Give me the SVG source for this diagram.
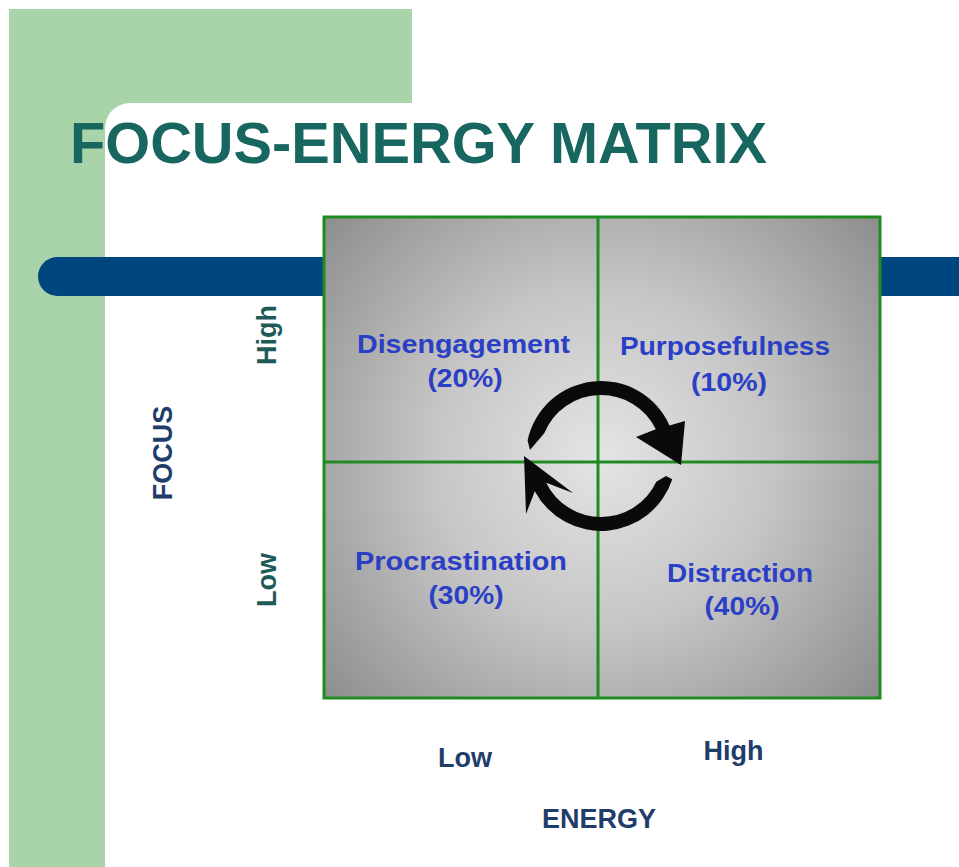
<svg xmlns="http://www.w3.org/2000/svg" width="959" height="867" viewBox="0 0 959 867">
  <defs>
    <radialGradient id="cellFill" gradientUnits="userSpaceOnUse" cx="601" cy="458" r="372">
      <stop offset="0" stop-color="#e4e4e4"/>
      <stop offset="0.45" stop-color="#c6c6c6"/>
      <stop offset="1" stop-color="#8c8c8c"/>
    </radialGradient>
    <style>
      .title { font-family: "Liberation Sans", Arial, sans-serif; font-weight: bold; font-size: 57px; fill: #17665f; }
      .quad { font-family: "Liberation Sans", Arial, sans-serif; font-weight: bold; font-size: 26px; fill: #2b3fc6; text-anchor: middle; }
      .level { font-family: "Liberation Sans", Arial, sans-serif; font-weight: bold; font-size: 27px; fill: #1e5a57; text-anchor: middle; }
      .axis { font-family: "Liberation Sans", Arial, sans-serif; font-weight: bold; font-size: 27px; fill: #1f3d6b; text-anchor: middle; }
      .grid { fill: none; stroke: #1f8c22; stroke-width: 3; }
      .cycle { fill: #0a0a0a; }
    </style>
  </defs>

  <!-- page background -->
  <rect x="0" y="0" width="959" height="867" fill="#ffffff"/>

  <!-- green L-shaped frame with rounded inner corner -->
  <path d="M9,9 H412 V103 H130 A25,25 0 0 0 105,128 V867 H9 Z" fill="#a9d4a9"/>

  <!-- blue band behind the matrix -->
  <rect x="38" y="257" width="960" height="39" rx="19.5" ry="19.5" fill="#00467e"/>

  <!-- title -->
  <text class="title" x="70" y="163" textLength="697" lengthAdjust="spacingAndGlyphs">FOCUS-ENERGY MATRIX</text>

  <!-- matrix cells -->
  <g id="matrix">
    <rect x="324" y="217" width="556" height="481" fill="url(#cellFill)"/>
    <rect class="grid" x="324" y="217" width="556" height="481"/>
    <line class="grid" x1="598" y1="217" x2="598" y2="698"/>
    <line class="grid" x1="324" y1="462" x2="880" y2="462"/>
  </g>

  <g id="q-disengagement">
    <text class="quad" x="463.5" y="353" textLength="213" lengthAdjust="spacingAndGlyphs">Disengagement</text>
    <text class="quad" x="465" y="387" textLength="75" lengthAdjust="spacingAndGlyphs">(20%)</text>
  </g>
  <g id="q-purposefulness">
    <text class="quad" x="725" y="355" textLength="210" lengthAdjust="spacingAndGlyphs">Purposefulness</text>
    <text class="quad" x="729" y="391" textLength="76" lengthAdjust="spacingAndGlyphs">(10%)</text>
  </g>
  <g id="q-procrastination">
    <text class="quad" x="461" y="570" textLength="212" lengthAdjust="spacingAndGlyphs">Procrastination</text>
    <text class="quad" x="466" y="604" textLength="75" lengthAdjust="spacingAndGlyphs">(30%)</text>
  </g>
  <g id="q-distraction">
    <text class="quad" x="740" y="582" textLength="146" lengthAdjust="spacingAndGlyphs">Distraction</text>
    <text class="quad" x="742" y="615" textLength="75" lengthAdjust="spacingAndGlyphs">(40%)</text>
  </g>

  <!-- cycle arrows -->
  <g id="connectors">
    <path class="cycle" d="M530,450 L527.6,440.4 A75,75 0 0 1 669.5,425.5 L685,421 L681,465 L636,437 L655.8,429.3 A61,61 0 0 0 544.4,433.1 Z"/>
    <path class="cycle" d="M666,476 L672.3,479.2 A75,75 0 0 1 534.8,491.2 L526,514 L524,456 L573,493 L546.2,482.7 A61,61 0 0 0 656.3,481.8 Z"/>
  </g>

  <!-- focus axis -->
  <g id="focus-axis">
    <text class="axis" transform="translate(172,453) rotate(-90)">FOCUS</text>
    <text class="level" transform="translate(276,335) rotate(-90)">High</text>
    <text class="level" transform="translate(276,580) rotate(-90)">Low</text>
  </g>

  <!-- energy axis -->
  <g id="energy-axis">
    <text class="axis" x="465" y="767">Low</text>
    <text class="axis" x="733.5" y="760">High</text>
    <text class="axis" x="599" y="828">ENERGY</text>
  </g>
</svg>
